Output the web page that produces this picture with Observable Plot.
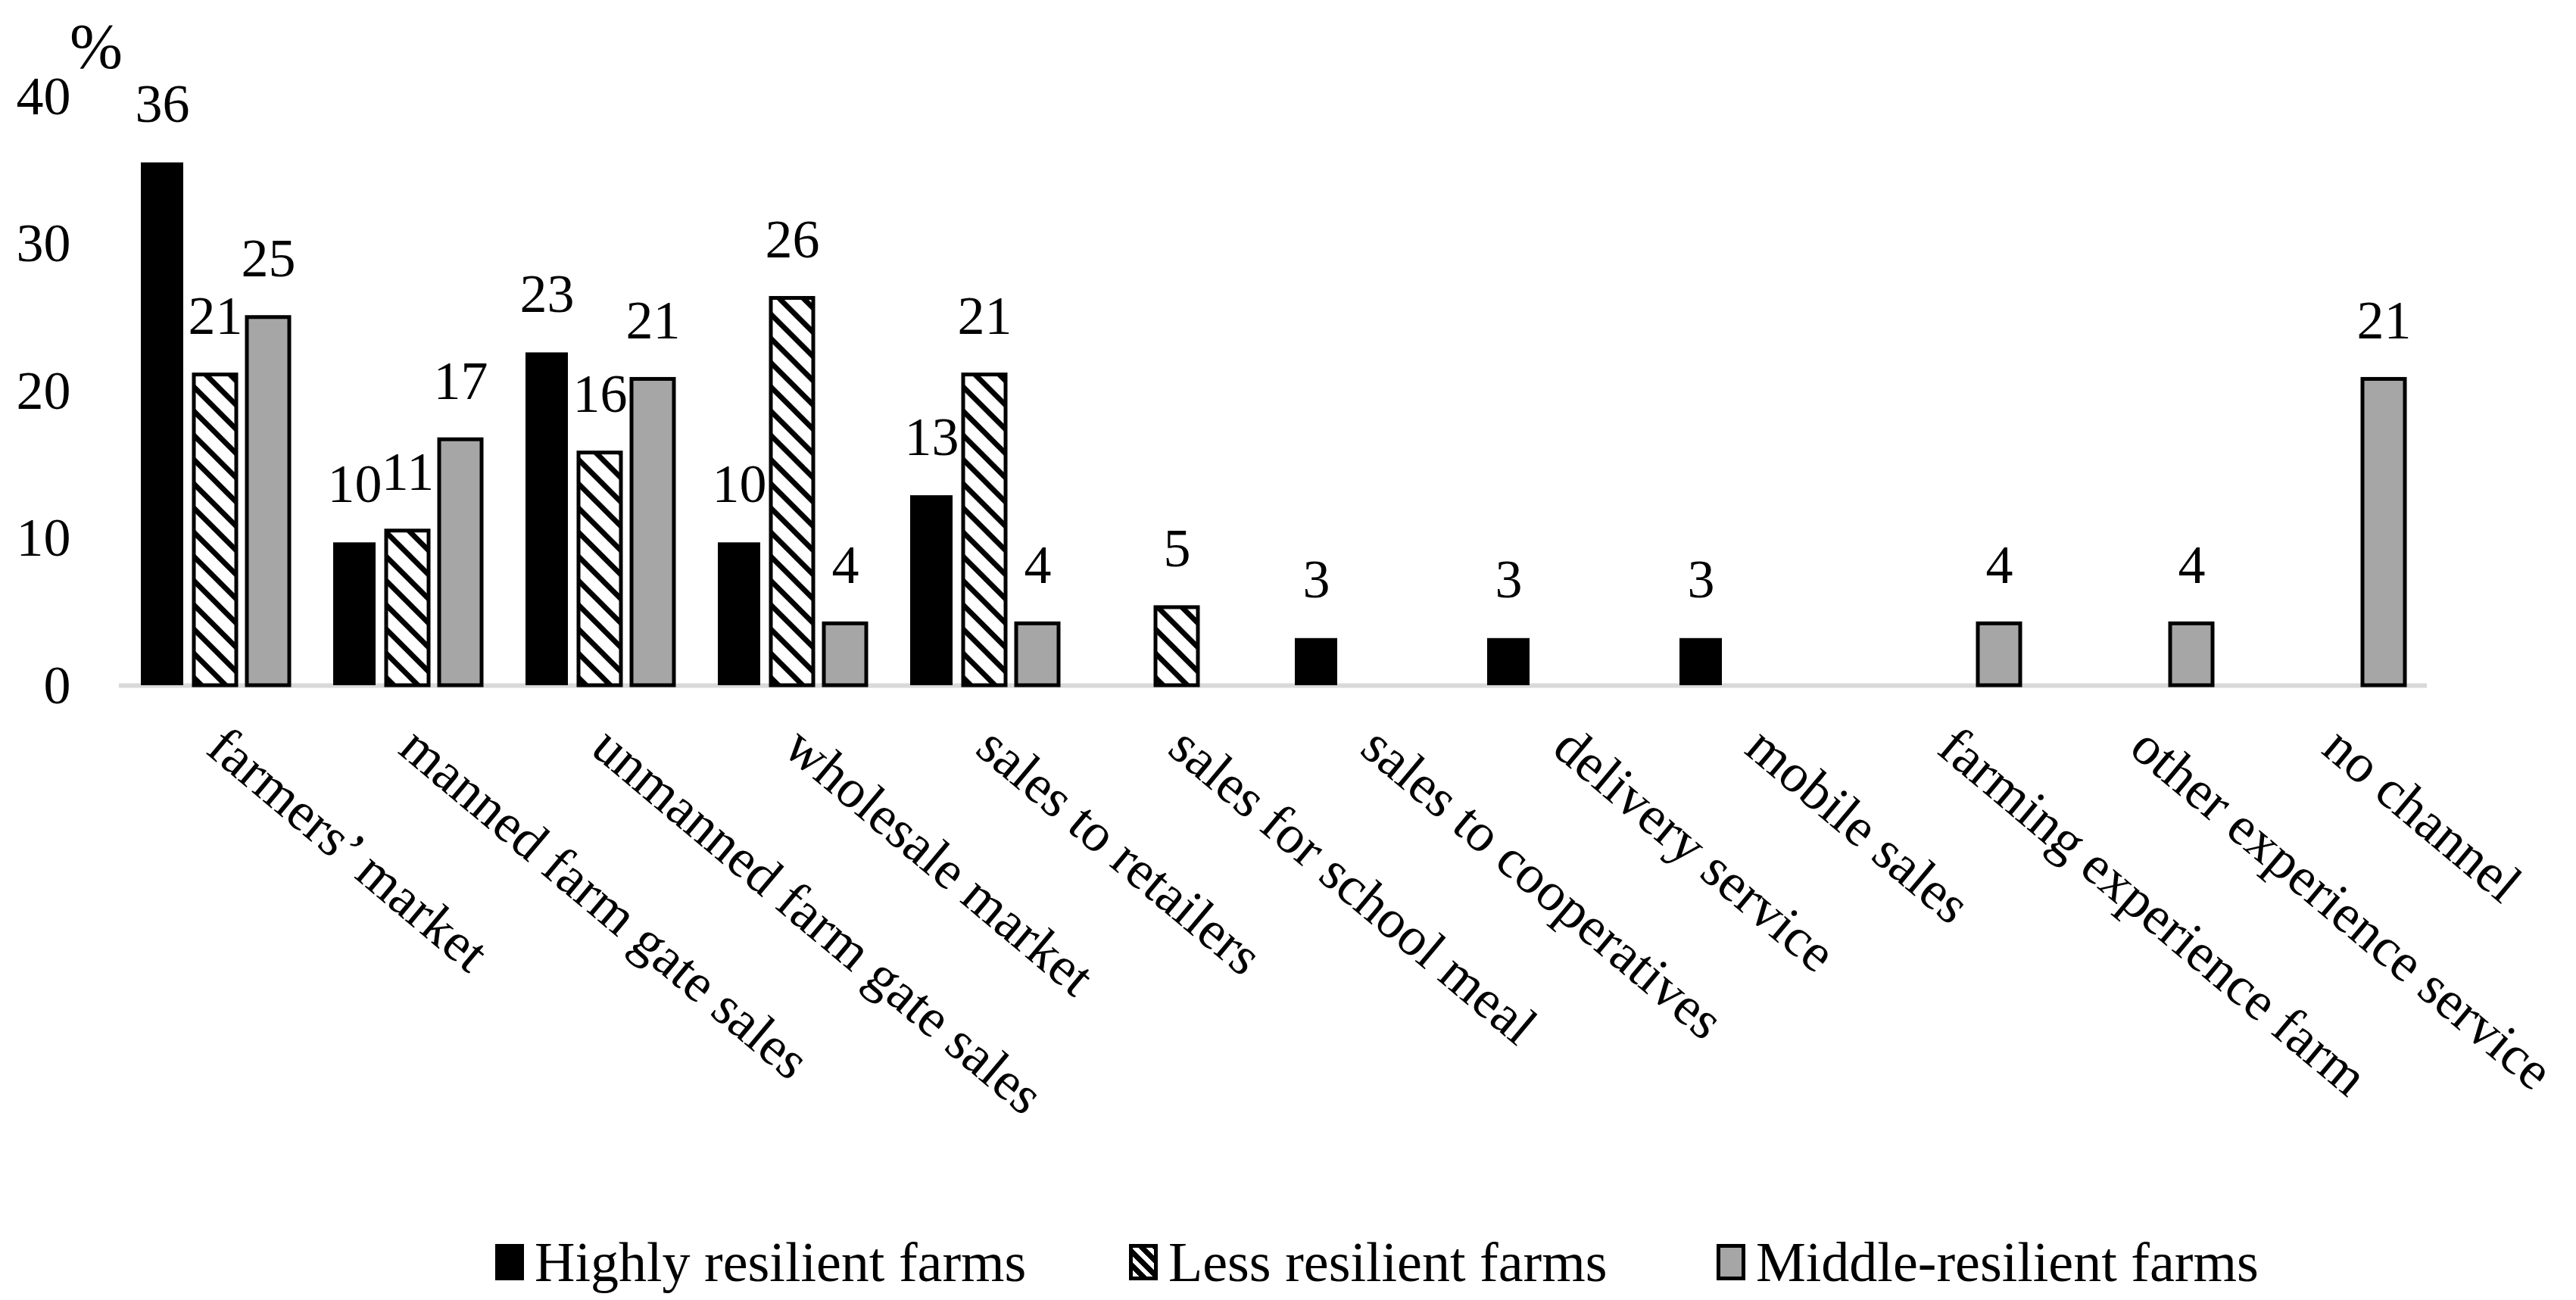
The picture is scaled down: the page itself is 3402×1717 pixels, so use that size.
<!DOCTYPE html>
<html>
<head>
<meta charset="utf-8">
<script src="https://cdn.jsdelivr.net/npm/d3@7"></script>
<script src="https://cdn.jsdelivr.net/npm/@observablehq/plot@0.6"></script>
<style>
  html, body { margin: 0; padding: 0; background: #fff; }
  #wrap { position: relative; width: 3402px; height: 1717px; font-family: "Liberation Serif", serif; color: #000; }
  #pct { position: absolute; left: 92px; top: 20px; font-size: 84px; line-height: 84px; }
  #legend { position: relative; width: 3402px; height: 107px; font-size: 74px; }
  .item { position: absolute; top: 20px; display: flex; align-items: center; height: 74px; line-height: 74px; white-space: nowrap; }
  .sw { width: 38px; height: 48px; box-sizing: border-box; margin-right: 14px; }
</style>
</head>
<body>
<div id="wrap">
  <div id="chart"></div>
  <div id="pct">%</div>
  <div id="legend"></div>
</div>
<script>
const categories = ["farmers’ market", "manned farm gate sales", "unmanned farm gate sales", "wholesale market",
  "sales to retailers", "sales for school meal", "sales to cooperatives", "delivery service", "mobile sales",
  "farming experience farm", "other experience service", "no channel"];
const series = ["Highly resilient farms", "Less resilient farms", "Middle-resilient farms"];
const highly = [35.5, 9.7, 22.6, 9.7, 12.9, 0, 3.2, 3.2, 3.2, 0, 0, 0];
const less   = [21.1, 10.5, 15.8, 26.3, 21.1, 5.3, 0, 0, 0, 0, 0, 0];
const middle = [25.0, 16.7, 20.8, 4.2, 4.2, 0, 0, 0, 0, 4.2, 4.2, 20.8];
const yTicks = [0, 10, 20, 30, 40];

const seriesValues = [highly, less, middle];
const rows = series.flatMap((s, si) => categories.map((c, ci) => ({category: c, series: s, value: seriesValues[si][ci]})))
  .filter(d => d.value > 0);

const fills = {"Highly resilient farms": "#000000", "Less resilient farms": "url(#hatch)", "Middle-resilient farms": "#a6a6a6"};

const plot = Plot.plot({
  width: 3402,
  height: 1610,
  marginLeft: 156,
  marginRight: 197,
  marginTop: 127,
  marginBottom: 705,
  style: {fontFamily: "Liberation Serif", fontSize: "72px", background: "white", color: "black", overflow: "visible"},
  fx: {domain: categories, padding: 0, label: null, axis: "bottom", tickRotate: 40, tickSize: 0, tickPadding: 70},
  x: {domain: series, paddingInner: 0.2, paddingOuter: 0.414, axis: null},
  y: {domain: [0, 40], ticks: yTicks, tickSize: 0, tickPadding: 64, label: null},
  marks: [
    Plot.ruleY([0], {stroke: "#d9d9d9", strokeWidth: 6}),
    Plot.barY(rows.filter(d => d.series === series[0]), {fx: "category", x: "series", y: "value", fill: fills[series[0]]}),
    Plot.barY(rows.filter(d => d.series === series[1]), {fx: "category", x: "series", y: "value", fill: fills[series[1]], stroke: "#000", strokeWidth: 5}),
    Plot.barY(rows.filter(d => d.series === series[2]), {fx: "category", x: "series", y: "value", fill: fills[series[2]], stroke: "#000", strokeWidth: 5}),
    Plot.text(rows, {fx: "category", x: "series", y: "value", text: d => String(Math.round(d.value)), dy: -77, lineAnchor: "middle", fill: "#000"})
  ]
});

// hatch pattern
const defs = d3.select(plot).insert("defs", ":first-child");
const pat = defs.append("pattern").attr("id", "hatch").attr("patternUnits", "userSpaceOnUse")
  .attr("width", 32).attr("height", 32);
pat.append("rect").attr("width", 32).attr("height", 32).attr("fill", "#fff");
pat.append("path").attr("d", "M-8,-8L40,40M-8,24L8,40M24,-8L40,8").attr("stroke", "#000").attr("stroke-width", 7);

document.getElementById("chart").appendChild(plot);

// legend
const legendPos = [654, 1491, 2267];
const swStyles = [
  "background:#000;",
  "border:5px solid #000;background:repeating-linear-gradient(45deg,#fff 0 6px,#000 6px 13px);",
  "border:5px solid #000;background:#a6a6a6;"
];
const legend = document.getElementById("legend");
series.forEach((s, i) => {
  const it = document.createElement("div");
  it.className = "item";
  it.style.left = legendPos[i] + "px";
  const sw = document.createElement("div");
  sw.className = "sw";
  sw.style.cssText = swStyles[i];
  const tx = document.createElement("span");
  tx.textContent = s;
  it.appendChild(sw);
  it.appendChild(tx);
  legend.appendChild(it);
});
</script>
</body>
</html>
